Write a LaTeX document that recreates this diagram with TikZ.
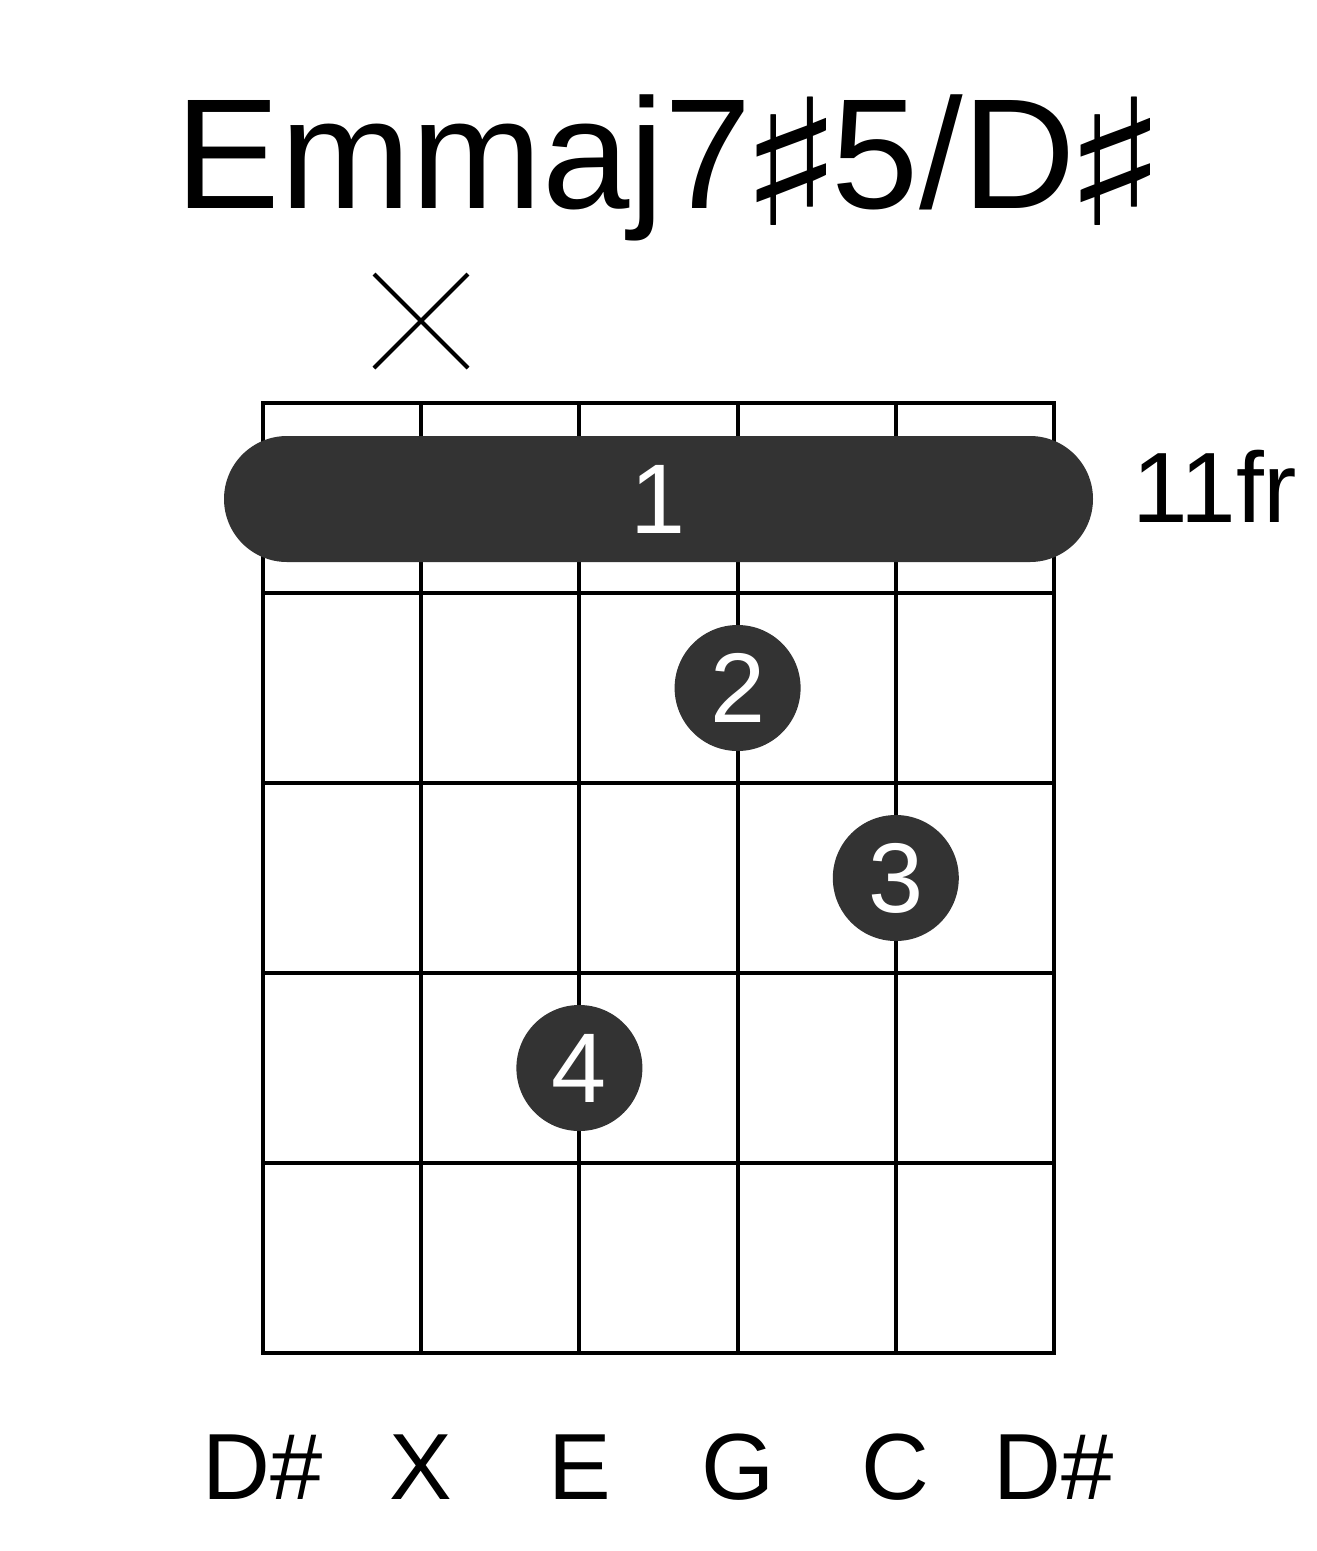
\documentclass[tikz,border=0pt]{standalone}
\usepackage{graphicx}
\usepackage{fontspec}
\setmainfont{Liberation Sans}
\newfontfamily\symfont{DejaVu Sans}
\definecolor{dotgray}{HTML}{333333}
\newcommand{\bigsharp}{\makebox[80pt][c]{\raisebox{-17pt}{\scalebox{1.4}[1.12]{\symfont ♯}}}}
\begin{document}
\begin{tikzpicture}[x=1pt,y=-1pt,
  gridline/.style={line width=4pt,draw=black},
  mutemark/.style={line width=4pt,draw=black},
  fingerdot/.style={circle,fill=dotgray,minimum size=126pt,inner sep=0pt,text=white,font=\fontsize{99}{99}\selectfont},
  barrebar/.style={fill=dotgray,rounded corners=63pt},
  fingerlabel/.style={inner sep=0pt,text=white,font=\fontsize{99}{99}\selectfont},
  notename/.style={anchor=base,inner sep=0pt,font=\fontsize{94}{94}\selectfont},
  titletext/.style={anchor=base,inner sep=0pt,font=\fontsize{157}{157}\selectfont}]
\useasboundingbox (0,0) rectangle (1317,1551);
% title
\node[titletext] (title) at (666,208) {Emmaj7\bigsharp 5/D\bigsharp};
% grid
\foreach \i in {0,...,5} {
  \draw[gridline] ({263+158.2*\i},403) -- ({263+158.2*\i},1353);
  \draw[gridline] (261,{403+190*\i}) -- (1056,{403+190*\i});
}
% mute mark
\coordinate (xc) at (421.2,321);
\draw[mutemark] (374,274) -- (468,368);
\draw[mutemark] (374,368) -- (468,274);
% barre
\fill[barrebar] (224,436) rectangle (1093,562);
\node[fingerlabel] (b1) at (658,499) {1};
\node[anchor=base west,inner sep=0pt,font=\fontsize{100}{100}\selectfont] (fr) at (1132,522) {11fr};
% dots
\node[fingerdot] (f2) at (737.6,688) {2};
\node[fingerdot] (f3) at (895.8,878) {3};
\node[fingerdot] (f4) at (579.4,1068) {4};
% string names
\node[notename] (n1) at (263,1499) {D\#};
\node[notename] (n2) at (421.2,1499) {X};
\node[notename] (n3) at (579.4,1499) {E};
\node[notename] (n4) at (737.6,1499) {G};
\node[notename] (n5) at (895.8,1499) {C};
\node[notename] (n6) at (1054,1499) {D\#};
\end{tikzpicture}
\end{document}
